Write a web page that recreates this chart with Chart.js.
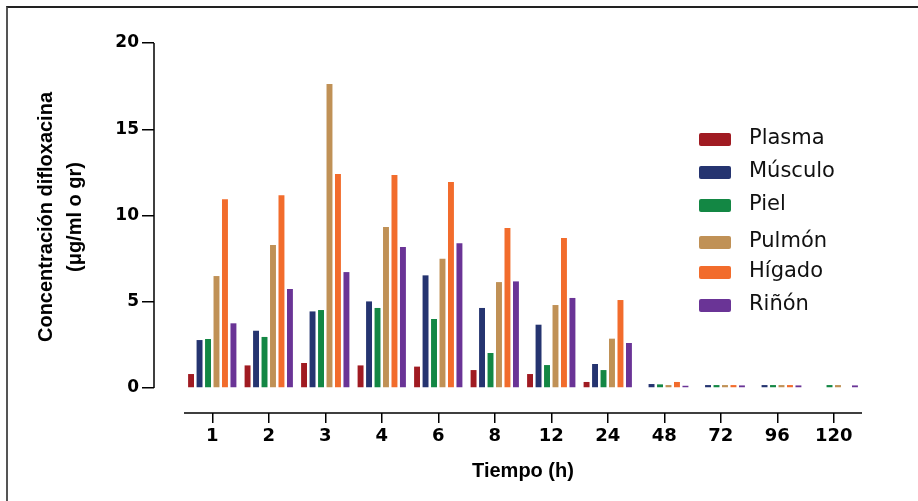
<!DOCTYPE html>
<html>
<head>
<meta charset="utf-8">
<script src="https://cdn.jsdelivr.net/npm/chart.js@4.4.1/dist/chart.umd.min.js"></script>
<style>
  html, body { margin: 0; padding: 0; background: #fff; }
  #wrap { position: relative; width: 918px; height: 501px; overflow: hidden; }
  #frame { position: absolute; left: 6px; top: 6px; width: 912px; height: 495px;
           border-top: 2px solid #222; border-left: 2px solid #555; }
  #grafico { position: absolute; left: 0; top: 0; }
  .titulo { position: absolute; font-family: "Liberation Sans", Arial, sans-serif;
            font-weight: bold; font-size: 20px; color: #000; text-align: center; }
  #tituloY { left: -90px; top: 188px; width: 300px; height: 58px; line-height: 29px;
             transform: rotate(-90deg); }
  #tituloX { left: 423px; top: 457px; width: 200px; line-height: 26px; }
  .leyenda { position: absolute; left: 699px; height: 20px;
             font-family: "DejaVu Sans", sans-serif; font-size: 21px; color: #111; }
  .leyenda span.caja { position: absolute; left: 0; top: 3px; width: 32px; height: 13px; border-radius: 2px; }
  .leyenda span.txt { position: absolute; left: 50px; top: -6px; white-space: nowrap; line-height: 26px; }
</style>
</head>
<body>
<div id="wrap">
  <div id="frame"></div>
  <canvas id="grafico" width="918" height="501"></canvas>
  <div id="tituloY" class="titulo">Concentración difloxacina<br>(μg/ml o gr)</div>
  <div id="tituloX" class="titulo">Tiempo (h)</div>
</div>
<script>
// tiempos de muestreo
var tiempos = ["1", "2", "3", "4", "6", "8", "12", "24", "48", "72", "96", "120"];

// concentraciones por tejido (null = sin barra)
var plasma  = [0.81, 1.31, 1.45, 1.31, 1.24, 1.04, 0.81, 0.35, null, null, null, null];
var musculo = [2.78, 3.32, 4.44, 5.02, 6.53, 4.64, 3.67, 1.39, 0.23, 0.17, 0.17, null];
var piel    = [2.84, 2.96, 4.52, 4.64, 4.00, 2.03, 1.33, 1.04, 0.21, 0.17, 0.17, 0.17];
var pulmon  = [6.49, 8.29, 17.62, 9.33, 7.50, 6.14, 4.81, 2.86, 0.17, 0.17, 0.17, 0.17];
var higado  = [10.94, 11.17, 12.41, 12.35, 11.94, 9.28, 8.70, 5.10, 0.35, 0.17, 0.17, null];
var rinon   = [3.75, 5.74, 6.72, 8.17, 8.39, 6.18, 5.22, 2.61, 0.13, 0.15, 0.15, 0.15];

var nombres = ["Plasma", "Músculo", "Piel", "Pulmón", "Hígado", "Riñón"];
var colores = ["#a01b22", "#253470", "#138744", "#c09156", "#f26c2c", "#6a3496"];
var series = [plasma, musculo, piel, pulmon, higado, rinon];

var yTicks = [0, 5, 10, 15, 20];

// posiciones verticales de las filas de la leyenda
var filaLeyenda = [130, 163, 196, 233, 263, 296];

function puntos(arr) {
  return arr.map(function(v, i) { return { x: i, y: v }; });
}

var datasets = [];
for (var i = 0; i < series.length; i++) {
  datasets.push({
    label: nombres[i],
    data: puntos(series[i]),
    backgroundColor: colores[i],
    categoryPercentage: 0.9,
    barPercentage: 0.7
  });
}

// ejes dibujados a mano (estilo GraphPad, separados)
var ejesPlugin = {
  id: "ejes",
  afterDraw: function(chart) {
    var ctx = chart.ctx;
    var xs = chart.scales.x, ys = chart.scales.y;
    ctx.save();
    ctx.strokeStyle = "#000";
    ctx.lineWidth = 1.5;
    ctx.beginPath();
    ctx.moveTo(xs.left, ys.getPixelForValue(20));
    ctx.lineTo(xs.left, ys.getPixelForValue(0));
    ctx.moveTo(xs.getPixelForValue(-0.5), ys.bottom);
    ctx.lineTo(xs.getPixelForValue(tiempos.length - 0.5), ys.bottom);
    ctx.stroke();
    ctx.restore();
  }
};

var chart = new Chart(document.getElementById("grafico"), {
  type: "bar",
  data: { datasets: datasets },
  plugins: [ejesPlugin],
  options: {
    responsive: false,
    animation: false,
    layout: { padding: { top: 43, right: 56, left: 0, bottom: 0 } },
    plugins: { legend: { display: false }, tooltip: { enabled: false } },
    scales: {
      x: {
        type: "linear",
        offset: false,
        min: -1.031,
        max: 11.5,
        afterFit: function(scale) { scale.height = 88; },
        afterBuildTicks: function(scale) {
          scale.ticks = tiempos.map(function(t, i) { return { value: i }; });
        },
        border: { display: false },
        grid: { offset: false, drawOnChartArea: false, drawTicks: true, tickLength: 10, color: "#000", lineWidth: 1.5 },
        ticks: {
          padding: 3,
          color: "#000",
          font: { family: "DejaVu Sans", weight: "bold", size: 18 },
          callback: function(v) { return tiempos[v]; }
        }
      },
      y: {
        min: -1.449,
        max: 20,
        afterFit: function(scale) { scale.width = 154; },
        afterBuildTicks: function(scale) {
          scale.ticks = yTicks.map(function(v) { return { value: v }; });
        },
        border: { display: false },
        grid: { drawOnChartArea: false, drawTicks: true, tickLength: 12, color: "#000", lineWidth: 1.5 },
        ticks: {
          padding: 3,
          color: "#000",
          font: { family: "DejaVu Sans", weight: "bold", size: 17 }
        }
      }
    }
  }
});

// leyenda HTML a partir de los datasets
var wrap = document.getElementById("wrap");
chart.data.datasets.forEach(function(ds, i) {
  var fila = document.createElement("div");
  fila.className = "leyenda";
  fila.style.top = filaLeyenda[i] + "px";
  fila.innerHTML = '<span class="caja" style="background:' + ds.backgroundColor + '"></span>' +
                   '<span class="txt">' + ds.label + '</span>';
  wrap.appendChild(fila);
});
</script>
</body>
</html>
